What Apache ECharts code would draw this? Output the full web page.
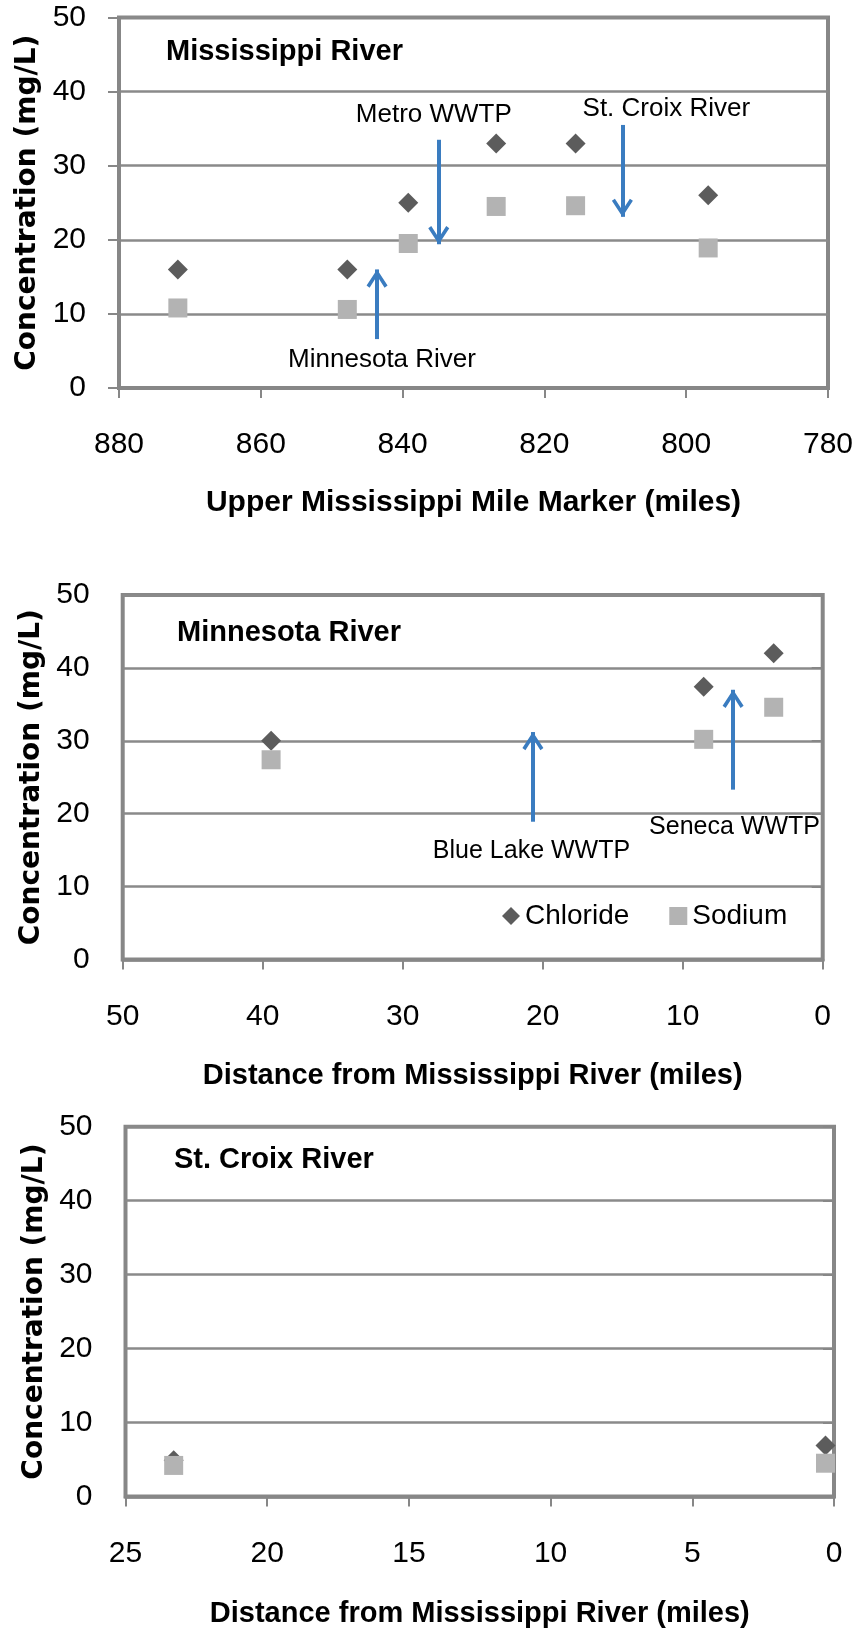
<!DOCTYPE html>
<html>
<head>
<meta charset="utf-8">
<script src="https://cdn.jsdelivr.net/npm/echarts@6/dist/echarts.min.js"></script>
<style>
  html, body { margin: 0; padding: 0; background: #fff; }
  #chart { width: 861px; height: 1633px; }
</style>
</head>
<body>
<div id="chart"></div>
<script>
// ---------- Data ----------
const missMile = [871.7, 847.8, 839.2, 826.8, 815.6, 796.9];
const missChloride = [16, 16, 25, 33, 33, 26];
const missSodium = [10.8, 10.6, 19.5, 24.5, 24.6, 18.9];

const mnDistance = [39.4, 8.5, 3.5];
const mnChloride = [30, 37.4, 42];
const mnSodium = [27.4, 30.2, 34.6];

const scDistance = [23.3, 0.3];
const scChloride = [4.9, 6.9];
const scSodium = [4.2, 4.5];

// annotation arrows (x position, start value, end value)
const missArrowX = [834.9, 843.6, 809.0];
const missArrowFrom = [33.5, 6.6, 35.5];
const missArrowTo = [19.4, 16.0, 23.1];
const missLabels = ['Metro WWTP', 'Minnesota River', 'St. Croix River'];
const missLabelX = [835.6, 842.9, 802.8];
const missLabelY = [36.8, 3.8, 37.7];

const mnArrowX = [20.7, 6.4];
const mnArrowFrom = [18.9, 23.3];
const mnArrowTo = [31.2, 37.0];
const mnLabels = ['Blue Lake WWTP', 'Seneca WWTP'];
const mnLabelX = [20.8, 6.3];
const mnLabelY = [14.8, 18.2];

const panelTitles = ['Mississippi River', 'Minnesota River', 'St. Croix River'];
const xTitles = ['Upper Mississippi Mile Marker (miles)', 'Distance from Mississippi River (miles)', 'Distance from Mississippi River (miles)'];
const yTitle = 'Concentration (mg/L)';
const seriesNames = ['Chloride', 'Sodium'];

// ---------- Styling helpers ----------
const FONT = 'Liberation Sans, Arial, sans-serif';
const AXIS_GRAY = '#878787';
const GRID_GRAY = '#8a8a8a';
const ARROW_BLUE = '#3a7cc0';
const CHEVRON = 'path://M0,0 L0.1,0 L0,0.1 Z M40,40 L39.9,40 L40,39.9 Z M20,20 L30.5,36 L27.5,38.2 L20,26.5 L12.5,38.2 L9.5,36 Z';

function pairs(xs, ys) { return xs.map((x, i) => [x, ys[i]]); }

function yAxis(g) {
  return {
    type: 'value', gridIndex: g, min: 0, max: 50, interval: 10,
    name: yTitle, nameLocation: 'middle', nameGap: 72,
    nameTextStyle: { fontFamily: 'DejaVu Sans', fontWeight: 'bold', fontSize: 28, color: '#000' },
    axisLine: { show: true, lineStyle: { color: AXIS_GRAY, width: 3 } },
    axisTick: { show: true, length: 11, lineStyle: { color: AXIS_GRAY, width: 2 } },
    axisLabel: { margin: 33, fontFamily: FONT, fontSize: 30, color: '#000' },
    splitLine: { show: true, lineStyle: { color: GRID_GRAY, width: 2.5 } }
  };
}
function xAxis(g, min, max, interval, name, nameGap, nameSize) {
  return {
    type: 'value', gridIndex: g, min: min, max: max, interval: interval, inverse: true,
    name: name, nameLocation: 'middle', nameGap: nameGap,
    nameTextStyle: { fontFamily: FONT, fontWeight: 'bold', fontSize: nameSize, lineHeight: nameSize + 2, color: '#000' },
    axisLine: { show: true, onZero: false, lineStyle: { color: AXIS_GRAY, width: 3.5 } },
    axisTick: { show: true, length: 10, lineStyle: { color: AXIS_GRAY, width: 2 } },
    axisLabel: { margin: 42, fontFamily: FONT, fontSize: 30, lineHeight: 30, color: '#000' },
    splitLine: { show: false }
  };
}
function pointSeries(g, name, data) {
  const chl = name === 'Chloride';
  return {
    type: 'scatter', name: name, xAxisIndex: g, yAxisIndex: g, data: data,
    symbol: chl ? 'diamond' : 'rect', symbolSize: chl ? 20 : 19,
    itemStyle: { color: chl ? '#5c5c5c' : '#b3b3b3', opacity: 1 },
    z: 3
  };
}
function annotationSeries(g, ax, afrom, ato, labels, lx, ly, fontSize) {
  return {
    type: 'scatter', name: 'annot' + g, xAxisIndex: g, yAxisIndex: g,
    data: labels.map((t, i) => [lx[i], ly[i], t]),
    symbolSize: 1, itemStyle: { color: 'rgba(0,0,0,0)', opacity: 1 }, silent: true,
    label: { show: true, position: 'inside', formatter: p => p.data[2],
      fontFamily: FONT, fontSize: fontSize, color: '#000', opacity: 1 },
    markLine: {
      silent: true, animation: false,
      symbol: ['none', CHEVRON], symbolSize: 40,
      label: { show: false },
      lineStyle: { color: ARROW_BLUE, width: 4, type: 'solid', opacity: 1 },
      itemStyle: { color: ARROW_BLUE, opacity: 1 },
      emphasis: { disabled: true },
      data: ax.map((x, i) => [{ coord: [x, afrom[i]] }, { coord: [x, ato[i]] }])
    },
    z: 4
  };
}

const gridBase = { show: true, borderColor: AXIS_GRAY, borderWidth: 4, backgroundColor: '#fff' };

const option = {
  animation: false,
  backgroundColor: '#fff',
  title: [
    { text: panelTitles[0], left: 166, top: 37 },
    { text: panelTitles[1], left: 177, top: 618 },
    { text: panelTitles[2], left: 174, top: 1145 }
  ].map(t => Object.assign(t, { textStyle: { fontFamily: FONT, fontWeight: 'bold', fontSize: 29, lineHeight: 30, color: '#000' }, padding: 0 })),
  legend: {
    data: seriesNames, left: 502, top: 901, itemWidth: 18, itemHeight: 18, itemGap: 40,
    textStyle: { fontFamily: FONT, fontSize: 28, lineHeight: 30, color: '#000' },
    padding: 0, selectedMode: false
  },
  grid: [
    Object.assign({ left: 119, top: 17.5, width: 709, height: 370.5 }, gridBase),
    Object.assign({ left: 122.7, top: 595, width: 700, height: 364.5 }, gridBase),
    Object.assign({ left: 125.5, top: 1126.7, width: 708.5, height: 369.8 }, gridBase)
  ],
  xAxis: [
    xAxis(0, 780, 880, 20, xTitles[0], 99, 30),
    xAxis(1, 0, 50, 10, xTitles[1], 101, 29),
    xAxis(2, 0, 25, 5, xTitles[2], 102, 29)
  ],
  yAxis: [yAxis(0), yAxis(1), yAxis(2)],
  series: [
    pointSeries(0, 'Chloride', pairs(missMile, missChloride)),
    pointSeries(0, 'Sodium', pairs(missMile, missSodium)),
    pointSeries(1, 'Chloride', pairs(mnDistance, mnChloride)),
    pointSeries(1, 'Sodium', pairs(mnDistance, mnSodium)),
    pointSeries(2, 'Chloride', pairs(scDistance, scChloride)),
    pointSeries(2, 'Sodium', pairs(scDistance, scSodium)),
    annotationSeries(0, missArrowX, missArrowFrom, missArrowTo, missLabels, missLabelX, missLabelY, 26),
    annotationSeries(1, mnArrowX, mnArrowFrom, mnArrowTo, mnLabels, mnLabelX, mnLabelY, 25)
  ]
};

const chart = echarts.init(document.getElementById('chart'), null, { renderer: 'canvas' });
chart.setOption(option);
</script>
</body>
</html>
